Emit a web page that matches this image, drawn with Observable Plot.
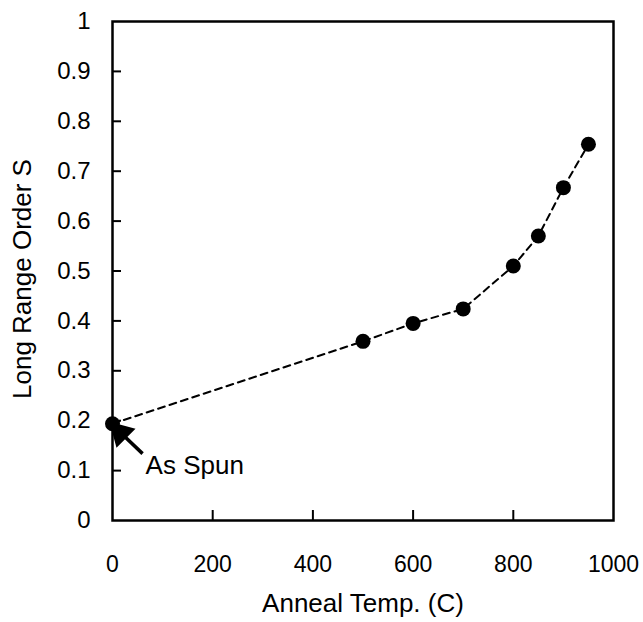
<!DOCTYPE html>
<html><head><meta charset="utf-8">
<script src="https://cdn.jsdelivr.net/npm/d3@7"></script>
<script src="https://cdn.jsdelivr.net/npm/@observablehq/plot@0.6"></script>
<style>body{margin:0;background:#fff}</style>
</head><body><div id="chart"></div>
<script>
const temps = [0, 500, 600, 700, 800, 850, 900, 950];
const order = [0.194, 0.359, 0.395, 0.424, 0.510, 0.570, 0.667, 0.754];
const xTicks = [0, 200, 400, 600, 800, 1000];
const yTicks = [0, 0.1, 0.2, 0.3, 0.4, 0.5, 0.6, 0.7, 0.8, 0.9, 1];
const xInner = [200, 400, 600, 800];
const yInner = [0.1, 0.2, 0.3, 0.4, 0.5, 0.6, 0.7, 0.8, 0.9];
const annot = {label: "As Spun", tx: 66, ty: 0.11, ax1: 60, ay1: 0.134, ax2: 10, ay2: 0.182};
const xLabel = "Anneal Temp. (C)";
const yLabel = "Long Range Order S";

const data = temps.map((t, i) => ({t, s: order[i]}));
const font = "'Liberation Sans', Arial, Helvetica, sans-serif";

const chart = Plot.plot({
  width: 643, height: 622,
  marginLeft: 112, marginRight: 30, marginTop: 21, marginBottom: 102,
  style: {fontFamily: font, fontSize: "23px", color: "#000", background: "#fff"},
  x: {domain: [0, 1000]},
  y: {domain: [0, 1]},
  marks: [
    Plot.axisX(xTicks, {tickSize: 0, tickPadding: 35, fontSize: 23, label: null, tickFormat: d => String(d)}),
    Plot.axisY(yTicks, {tickSize: 0, tickPadding: 22, fontSize: 24, label: null, tickFormat: d => String(d)}),
    Plot.ruleX(xInner, {y1: 0, y2: 0.02, stroke: "#000", strokeWidth: 2}),
    Plot.ruleY(yInner, {x1: 0, x2: 18, stroke: "#000", strokeWidth: 2}),
    Plot.frame({stroke: "#000", strokeWidth: 2.5}),
    Plot.line(data, {x: "t", y: "s", stroke: "#000", strokeWidth: 2, strokeDasharray: "7,5"}),
    Plot.dot(data, {x: "t", y: "s", r: 7.5, fill: "#000", stroke: "none"}),
    Plot.link([annot], {x1: "ax1", y1: "ay1", x2: "ax2", y2: "ay2", stroke: "#000", strokeWidth: 3.5}),
    Plot.dot([annot], {x: "ax2", y: "ay2", symbol: "triangle", r: 10, fill: "#000", stroke: "none", rotate: -45, dx: 3, dy: 3}),
    Plot.text([annot], {x: "tx", y: "ty", text: "label", textAnchor: "start", fontSize: 26, fill: "#000"}),
    Plot.text([xLabel], {frameAnchor: "bottom", text: d => d, textAnchor: "middle", dy: 91, fontSize: 26, fill: "#000"}),
    Plot.text([yLabel], {frameAnchor: "left", text: d => d, textAnchor: "middle", rotate: -90, dx: -90, dy: 8, fontSize: 26, fill: "#000"})
  ]
});
document.getElementById("chart").appendChild(chart);
</script>
</body></html>
